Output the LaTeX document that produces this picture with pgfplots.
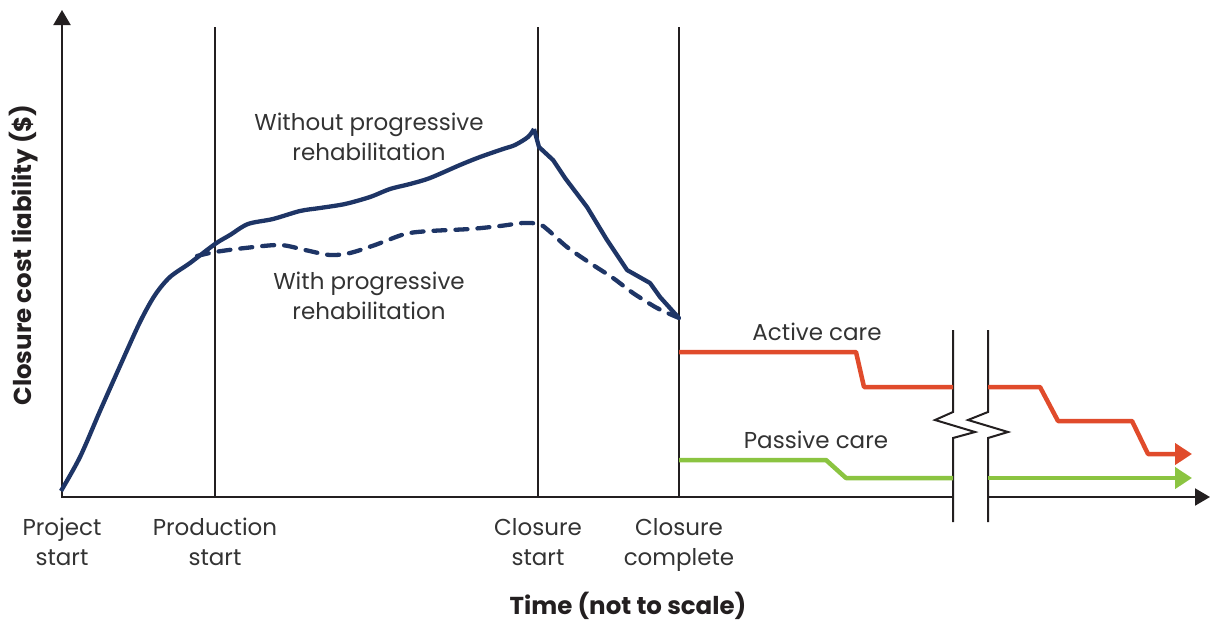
\documentclass[border=0pt]{standalone}
\usepackage{fontspec}
\setmainfont{Poppins}
\usepackage{pgfplots}
\pgfplotsset{compat=1.18}
\usetikzlibrary{arrows.meta}
\definecolor{navy}{HTML}{1E3566}
\definecolor{redc}{HTML}{E04B2B}
\definecolor{greenc}{HTML}{8BC441}
\definecolor{axc}{HTML}{231F20}
\definecolor{txt}{HTML}{333333}
\tikzset{lbl/.style={font=\fontsize{23}{30}\selectfont,text=txt,align=center,inner sep=0pt},
  ttl/.style={font=\fontsize{24.5}{30}\selectfont\bfseries,text=axc,inner sep=0pt}}
\begin{document}
\begin{tikzpicture}
\begin{axis}[width=1211pt,height=622pt,scale only axis,
  xmin=0,xmax=1211,ymin=0,ymax=622,y dir=reverse,clip=false,
  axis line style={draw=none},xtick=\empty,ytick=\empty]
% axes
\addplot[axc,line width=2pt,-{Triangle[width=17pt,length=15pt]}] coordinates {(62,498) (62,10)};
\addplot[axc,line width=2pt] coordinates {(61,497) (953,497)};
\addplot[axc,line width=2pt,-{Triangle[width=17pt,length=15pt]}] coordinates {(988,497) (1210,497)};
% milestone lines
\addplot[axc,line width=2pt] coordinates {(215,27) (215,497)};
\addplot[axc,line width=2pt] coordinates {(538,27) (538,497)};
\addplot[axc,line width=2pt] coordinates {(679,27) (679,497)};
% break
\addplot[axc,line width=2pt] coordinates {(953,330) (953,412) (935,420) (975,432) (953,438) (953,522)};
\addplot[axc,line width=2pt] coordinates {(988,330) (988,412) (968,420) (1008,432) (988,438) (988,522)};
% without progressive rehabilitation
\addplot[navy,line width=4.3pt,smooth,tension=0.5,line join=round] coordinates {
(61,491) (80,457) (100,411) (120,366) (140,322) (155,295) (170,277) (190,263) (215,244)
(230,235) (248,224) (273,219) (300,211) (320,208) (345,204) (370,197) (390,189) (410,184)
(430,178) (460,165) (480,157) (503,149) (515,145) (528,137) (534,129)};
\addplot[navy,line width=4.3pt,line join=round] coordinates {
(534,129) (539,147) (553,160) (565,178) (587,207) (607,240) (627,270) (650,283) (660,297) (678,317)};
% with progressive rehabilitation
\addplot[navy,line width=4.3pt,dash pattern=on 12pt off 10pt,line cap=round,smooth,tension=0.5] coordinates {
(197,256) (215,252) (245,248) (280,245) (305,250) (330,255) (350,253) (375,245) (405,234)
(430,231) (470,229) (500,226) (523,223) (539,224) (548,230) (567,247) (590,263) (613,278)
(633,293) (657,308) (679,318)};
% active care
\addplot[redc,line width=4.5pt,line join=round] coordinates {(679,352) (856,352) (864,387) (953,387)};
\addplot[redc,line width=4.5pt,line join=round,-{Triangle[width=21pt,length=17pt]}] coordinates {
(988,387) (1040,387) (1058,421) (1132,421) (1148,454) (1192,454)};
% passive care
\addplot[greenc,line width=4.5pt,line join=round] coordinates {(679,460) (826,460) (846,478) (953,478)};
\addplot[greenc,line width=4.5pt,-{Triangle[width=21pt,length=17pt]}] coordinates {(988,478) (1192,478)};
% labels
\node[lbl] at (axis cs:369,137) {Without progressive\\rehabilitation};
\node[lbl] at (axis cs:369,296) {With progressive\\rehabilitation};
\node[lbl] at (axis cs:817,332) {Active care};
\node[lbl] at (axis cs:816,440) {Passive care};
\node[lbl,anchor=north] at (axis cs:62,518) {Project\\start};
\node[lbl,anchor=north] at (axis cs:215,518) {Production\\start};
\node[lbl,anchor=north] at (axis cs:538,518) {Closure\\start};
\node[lbl,anchor=north] at (axis cs:679,518) {Closure\\complete};
\node[ttl] at (axis cs:628,606) {Time (not to scale)};
\node[ttl,rotate=90] at (axis cs:24,255) {Closure cost liability (\$)};
\end{axis}
\end{tikzpicture}
\end{document}
